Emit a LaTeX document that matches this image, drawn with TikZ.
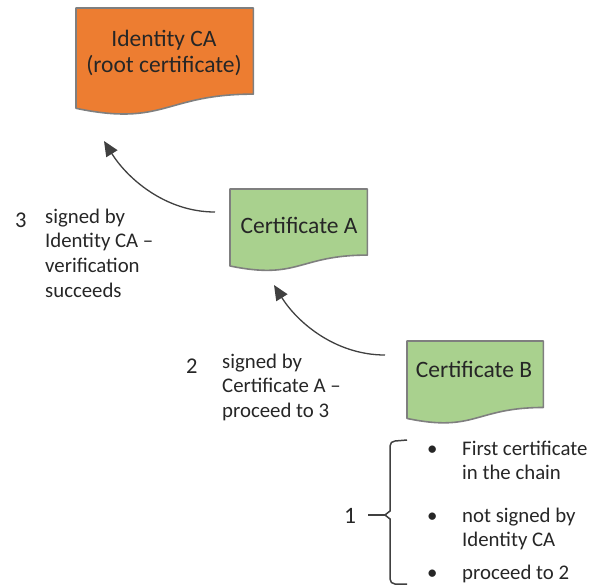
\documentclass[tikz,border=0pt]{standalone}
\usepackage{fontspec}
\setmainfont{Carlito}
\usetikzlibrary{arrows.meta,calc}
\definecolor{caorange}{HTML}{ED7D31}
\definecolor{certgreen}{HTML}{A9D18E}
\definecolor{bordergray}{HTML}{7F7F7F}
\definecolor{inkgray}{HTML}{262626}
\definecolor{linegray}{HTML}{404040}
\newcommand{\docshape}[2]{%
  \path[draw=bordergray, line width=1.6pt, fill=#2, line join=round]
    let \p1=(#1.north west), \p2=(#1.south east) in
    (\x1,\y1) -- (\x2,\y1) -- (\x2,{\y1+0.802*(\y2-\y1)})
    .. controls ({0.5*(\x1+\x2)},{\y1+0.802*(\y2-\y1)}) and ({0.5*(\x1+\x2)},{\y1+1.107*(\y2-\y1)}) ..
    (\x1,{\y1+0.934*(\y2-\y1)}) -- cycle;}
\tikzset{
  docbox/.style={rectangle, inner sep=0pt, anchor=north west},
  bigtext/.style={inner sep=0pt, text=inkgray, font=\fontsize{23.5}{25}\selectfont},
  smalltext/.style={inner sep=0pt, text=inkgray, align=left, anchor=base west, font=\fontsize{20.8}{24.8}\selectfont},
  numtext/.style={inner sep=0pt, text=inkgray, anchor=base west, font=\fontsize{22.5}{25}\selectfont},
  signarrow/.style={draw=linegray, line width=1.3pt, -{Triangle[length=15pt,width=13pt]}},
  bracestyle/.style={draw=linegray, line width=1.5pt}
}
\begin{document}
\begin{tikzpicture}[x=1pt,y=-1pt]
\useasboundingbox (0,0) rectangle (589,586);
% shapes
\node[docbox, minimum width=177pt, minimum height=107pt] (ca) at (76,8) {};
\node[docbox, minimum width=137pt, minimum height=82pt] (certa) at (230,189) {};
\node[docbox, minimum width=136pt, minimum height=82.5pt] (certb) at (407,341) {};
\docshape{ca}{caorange}
\docshape{certa}{certgreen}
\docshape{certb}{certgreen}
% shape texts
\node[bigtext, anchor=base] (catext1) at (164,47) {Identity CA};
\node[bigtext, anchor=base] (catext2) at (164,73) {(root certificate)};
\node[bigtext, anchor=base] (certatext) at (299,233) {Certificate A};
\node[bigtext, anchor=base] (certbtext) at (474,377) {Certificate B};
% arrows
\coordinate (a1s) at (215,212);
\coordinate (a1e) at (104,141);
\coordinate (a2s) at (385,355);
\coordinate (a2e) at (274,285);
\draw[signarrow] (a1s) .. controls +(-50,0) and +(23,37) .. (a1e);
\draw[signarrow] (a2s) .. controls +(-50,0) and +(23,37) .. (a2e);
% step labels (base anchor = baseline of last line)
\node[numtext] (n3) at (15,227) {3};
\node[smalltext] (l3) at (45,297.4) {signed by\\Identity CA –\\verification\\succeeds};
\node[numtext] (n2) at (186,373) {2};
\node[smalltext] (l2) at (222,417.6) {signed by\\Certificate A –\\proceed to 3};
% step 1 with brace
\node[numtext, font=\fontsize{23.5}{25}\selectfont] (n1) at (344,523) {1};
\coordinate (dashs) at (368,515);
\coordinate (cusp) at (385,515);
\draw[bracestyle] (dashs) -- (cusp);
\draw[bracestyle] (407,440) -- (395,441) to[out=180,in=90] (390,446) -- (390,511) -- (cusp) -- (390,519) -- (390,579) to[out=-90,in=180] (395,584) -- (407,584);
\node[smalltext] (b1) at (427,455) {•};
\node[smalltext] (t1) at (462,479.8) {First certificate\\in the chain};
\node[smalltext] (b2) at (427,522) {•};
\node[smalltext] (t2) at (462,546.8) {not signed by\\Identity CA};
\node[smalltext] (b3) at (427,579) {•};
\node[smalltext] (t3) at (462,579) {proceed to 2};
\end{tikzpicture}
\end{document}
